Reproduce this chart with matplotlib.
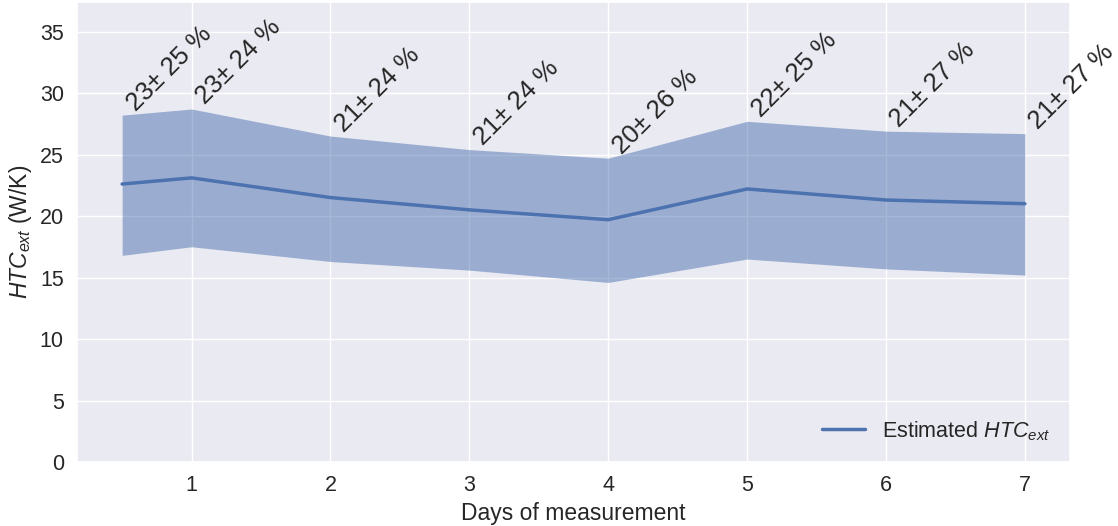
import matplotlib
matplotlib.use("Agg")
import matplotlib.pyplot as plt
import seaborn as sns

days = [0.5, 1, 2, 3, 4, 5, 6, 7]
htc_mean = [22.6, 23.1, 21.5, 20.5, 19.7, 22.2, 21.3, 21.0]
htc_upper = [28.2, 28.7, 26.5, 25.4, 24.7, 27.7, 26.9, 26.7]
htc_lower = [16.8, 17.5, 16.3, 15.6, 14.6, 16.5, 15.7, 15.2]
labels = ["23± 25 %", "23± 24 %", "21± 24 %", "21± 24 %",
          "20± 26 %", "22± 25 %", "21± 27 %", "21± 27 %"]

sns.set_theme(style="darkgrid")
plt.rcParams['font.family'] = ['Liberation Sans', 'DejaVu Sans']
plt.rcParams['mathtext.fontset'] = 'custom'
plt.rcParams['mathtext.it'] = 'Liberation Sans:italic'
plt.rcParams['mathtext.rm'] = 'Liberation Sans'

fig = plt.figure(figsize=(11.18, 5.26), dpi=100)
ax = fig.add_axes([77/1118, (526-462)/526, (1070-77)/1118, (462-2)/526])

color = "#4c72b0"
ax.fill_between(days, htc_lower, htc_upper, color=color, alpha=0.5, linewidth=0)
ax.plot(days, htc_mean, color=color, linewidth=2.5, label="Estimated $HTC_{ext}$")
for x, y, t in zip(days, htc_upper, labels):
    ax.text(x, y, t, rotation=45, ha='left', va='bottom', fontsize=18.5, color='#262626')

ax.set_ylim(0, 37.4)
ax.set_xticks([1, 2, 3, 4, 5, 6, 7])
ax.set_yticks([0, 5, 10, 15, 20, 25, 30, 35])
ax.tick_params(labelsize=15.5, colors='#262626')
ax.set_xlabel("Days of measurement", fontsize=16.5, color='#262626', labelpad=4)
ax.set_ylabel("$HTC_{ext}$ (W/K)", fontsize=16.5, color='#262626')
ax.legend(loc='lower right', fontsize=15.5, frameon=False)

fig.savefig("out.png", dpi=100)
